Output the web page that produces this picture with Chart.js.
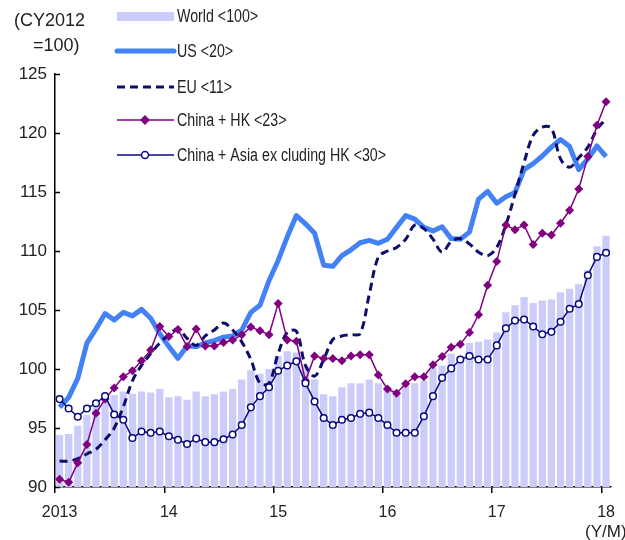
<!DOCTYPE html>
<html>
<head>
<meta charset="utf-8">
<script src="https://cdn.jsdelivr.net/npm/chart.js@4.4.1/dist/chart.umd.min.js"></script>
<style>
  body { margin: 0; background: #fff; }
  #wrap { width: 625px; height: 540px; }
</style>
</head>
<body>
<div id="wrap"><canvas id="chart" width="625" height="540"></canvas></div>
<script>
const FONT = "'Liberation Sans', Arial, sans-serif";

// months Jan 2013 .. Jan 2018
const months = [];
for (let y = 2013; y <= 2018; y++) {
    for (let m = 1; m <= 12; m++) {
        if (y === 2018 && m > 1) break;
        months.push(y + '/' + m);
    }
}
const yearLabels = ['2013', '14', '15', '16', '17', '18'];

const world = [94.4, 94.5, 95.2, 96.1, 96.8, 97.6, 97.8, 98.1, 97.9, 98.1, 98.0, 98.3,
    97.6, 97.7, 97.4, 98.1, 97.7, 97.85, 98.1, 98.3, 99.1, 99.9, 99.6, 100.0,
    101.1, 101.5, 101.4, 100.3, 99.1, 97.85, 97.7, 98.45, 98.8, 98.8, 99.1, 98.8,
    98.45, 98.2, 98.6, 98.8, 99.0, 100.1, 100.3, 101.3, 101.0, 102.2, 102.3, 102.5,
    103.1, 104.8, 105.4, 106.1, 105.6, 105.8, 105.9, 106.5, 106.8, 107.2, 108.4, 110.4,
    111.3];

const us = [96.75, 97.6, 99.2, 102.2, 103.4, 104.7, 104.15, 104.8, 104.5, 105.05, 104.3, 103.0,
    101.9, 100.9, 101.95, 101.9, 102.2, 102.4, 102.7, 102.8, 103.3, 104.8, 105.4, 107.5,
    109.2, 111.2, 113.0, 112.3, 111.5, 108.8, 108.7, 109.6, 110.1, 110.7, 110.9, 110.65,
    111.0, 112.0, 113.0, 112.7, 112.0, 111.7, 112.05, 111.05, 111.0, 111.6, 114.4, 115.05,
    114.05, 114.6, 114.95, 116.9, 117.4, 118.05, 118.8, 119.45, 118.85, 116.9, 117.8, 118.9,
    118.0];

const eu = [92.2, 92.2, 92.4, 92.8, 93.2, 94.0, 95.0, 96.8, 99.0, 100.3, 101.3, 102.2,
    102.9, 103.4, 102.6, 102.0, 102.8, 103.3, 103.9, 103.3, 102.3, 100.8, 98.8, 98.8,
    101.3, 103.1, 103.2, 100.3, 99.4, 100.8, 102.5, 102.8, 102.9, 103.0, 106.3, 109.5,
    110.0, 110.3, 111.0, 112.2, 111.9, 111.0, 109.9, 110.8, 111.05, 110.6, 109.9, 109.6,
    110.3, 112.2, 114.8, 117.5, 119.8, 120.5, 120.4, 117.8, 117.1, 117.9, 118.8, 120.3,
    121.2];

const chinaHK = [90.65, 90.4, 92.05, 93.6, 96.25, 97.45, 98.4, 99.35, 99.85, 100.7, 101.6, 103.6,
    102.75, 103.35, 101.9, 103.4, 101.95, 101.95, 102.25, 102.45, 102.9, 103.55, 103.25, 102.9,
    105.55, 102.45, 102.35, 99.0, 101.1, 100.9, 100.9, 100.7, 101.1, 101.2, 101.2, 99.5,
    98.3, 97.95, 98.75, 99.35, 99.35, 100.35, 101.05, 101.85, 102.1, 103.1, 104.6, 107.1,
    109.1, 112.2, 111.8, 112.2, 110.55, 111.5, 111.35, 112.35, 113.45, 115.25, 118.0, 120.65,
    122.65];

const chinaAsia = [97.45, 96.65, 95.95, 96.65, 97.1, 97.7, 96.15, 95.7, 94.15, 94.7, 94.6, 94.7,
    94.3, 94.0, 93.65, 94.1, 93.8, 93.8, 94.05, 94.45, 95.25, 96.75, 97.7, 98.45,
    99.85, 100.3, 100.65, 98.8, 97.25, 95.85, 95.25, 95.7, 95.85, 96.2, 96.3, 95.85,
    95.25, 94.6, 94.6, 94.6, 96.0, 97.7, 99.25, 100.05, 100.8, 101.1, 100.8, 100.8,
    102.0, 103.45, 104.1, 104.2, 103.6, 102.95, 103.15, 104.0, 105.1, 105.5, 107.95, 109.5,
    109.85];

const seriesNames = ['World <100>', 'US <20>', 'EU <11>', 'China + HK <23>', 'China + Asia ex cluding HK <30>'];

const COL_WORLD = '#ccccfa';
const COL_US = '#4282f5';
const COL_EU = '#0d0d6b';
const COL_CHK = '#800080';
const COL_CAS = '#0a0a80';

// narrow text like the original's condensed face
function narrowText(ctx, text, x, y, sx) {
    ctx.save();
    ctx.translate(x, y);
    ctx.scale(sx, 1);
    ctx.fillText(text, 0, 0);
    ctx.restore();
}

// legend, unit labels and inward y ticks
const decorPlugin = {
    id: 'decor',
    afterDraw(chart) {
        const ctx = chart.ctx;
        const ys = chart.scales.y;
        const area = chart.chartArea;
        ctx.save();

        // y ticks pointing into the plot
        ctx.strokeStyle = '#000';
        ctx.lineWidth = 1.5;
        ys.ticks.forEach(t => {
            const py = Math.round(ys.getPixelForValue(t.value)) + 0.5;
            ctx.beginPath();
            ctx.moveTo(area.left, py);
            ctx.lineTo(area.left + 5, py);
            ctx.stroke();
        });

        ctx.fillStyle = '#222';
        ctx.textBaseline = 'middle';
        ctx.textAlign = 'left';
        ctx.font = '18px ' + FONT;
        ctx.fillText('(CY2012', 14, 21);
        ctx.fillText('=100)', 33, 46);
        ctx.font = '17px ' + FONT;
        ctx.fillText('(Y/M)', 585, 532);

        // legend
        const lx0 = 117, lx1 = 174, tx = 177;
        const rows = [16, 51, 87, 120, 155];

        ctx.fillStyle = COL_WORLD;
        ctx.fillRect(lx0, rows[0] - 4, lx1 - lx0, 9);

        ctx.lineCap = 'round';
        ctx.strokeStyle = COL_US;
        ctx.lineWidth = 5;
        ctx.beginPath(); ctx.moveTo(lx0, rows[1]); ctx.lineTo(lx1, rows[1]); ctx.stroke();

        ctx.lineCap = 'butt';
        ctx.strokeStyle = COL_EU;
        ctx.lineWidth = 3;
        ctx.setLineDash([8, 5]);
        ctx.beginPath(); ctx.moveTo(lx0, rows[2]); ctx.lineTo(lx1, rows[2]); ctx.stroke();
        ctx.setLineDash([]);

        ctx.strokeStyle = COL_CHK;
        ctx.lineWidth = 1.5;
        ctx.beginPath(); ctx.moveTo(lx0, rows[3]); ctx.lineTo(lx1, rows[3]); ctx.stroke();
        ctx.fillStyle = COL_CHK;
        ctx.beginPath();
        ctx.moveTo(145, rows[3] - 5); ctx.lineTo(150, rows[3]); ctx.lineTo(145, rows[3] + 5); ctx.lineTo(140, rows[3]);
        ctx.closePath(); ctx.fill();

        ctx.strokeStyle = COL_CAS;
        ctx.beginPath(); ctx.moveTo(lx0, rows[4]); ctx.lineTo(lx1, rows[4]); ctx.stroke();
        ctx.fillStyle = '#fff';
        ctx.beginPath(); ctx.arc(145, rows[4], 3.5, 0, Math.PI * 2); ctx.fill(); ctx.stroke();

        ctx.fillStyle = '#222';
        ctx.font = '18px ' + FONT;
        seriesNames.forEach((n, i) => narrowText(ctx, n, tx, rows[i] + 1, 0.79));
        ctx.restore();
    }
};

const ctx = document.getElementById('chart').getContext('2d');
new Chart(ctx, {
    data: {
        labels: months,
        datasets: [
            { type: 'bar', label: seriesNames[0], data: world, backgroundColor: COL_WORLD,
              barPercentage: 0.8, categoryPercentage: 1, order: 5 },
            { type: 'line', label: seriesNames[1], data: us, borderColor: COL_US, borderWidth: 5,
              pointRadius: 0, tension: 0, borderJoinStyle: 'round', order: 4 },
            { type: 'line', label: seriesNames[2], data: eu, borderColor: COL_EU, borderWidth: 3,
              borderDash: [8, 5], pointRadius: 0, tension: 0.35, order: 3 },
            { type: 'line', label: seriesNames[3], data: chinaHK, borderColor: COL_CHK, borderWidth: 1.5,
              pointStyle: 'rectRot', pointRadius: 4.5, pointBackgroundColor: COL_CHK, pointBorderColor: COL_CHK,
              pointBorderWidth: 0, tension: 0, order: 2 },
            { type: 'line', label: seriesNames[4], data: chinaAsia, borderColor: COL_CAS, borderWidth: 1.5,
              pointStyle: 'circle', pointRadius: 3.3, pointBackgroundColor: '#fff', pointBorderColor: COL_CAS,
              pointBorderWidth: 1.5, tension: 0, order: 1 }
        ]
    },
    options: {
        responsive: false,
        animation: false,
        layout: { padding: { top: 74, right: 6, left: 0, bottom: 0 } },
        plugins: { legend: { display: false }, tooltip: { enabled: false } },
        scales: {
            x: {
                offset: true,
                grid: {
                    offset: true,
                    drawOnChartArea: false,
                    tickLength: 6,
                    lineWidth: 1.5,
                    color: c => (c.index !== undefined && c.index % 12 === 0) ? '#000' : 'rgba(0,0,0,0)'
                },
                border: { display: true, color: '#000', width: 1.5 },
                ticks: {
                    autoSkip: false, maxRotation: 0, minRotation: 0, padding: 10,
                    color: '#222', font: { family: FONT, size: 16 },
                    callback: (v, i) => i % 12 === 0 ? yearLabels[i / 12] : ''
                },
                afterFit: s => { s.height = 53; }
            },
            y: {
                min: 90, max: 125,
                grid: { display: false, drawTicks: false },
                border: { display: true, color: '#000', width: 1.5 },
                ticks: { stepSize: 5, padding: 8, color: '#222', font: { family: FONT, size: 17 } },
                afterFit: s => { s.width = 55; }
            }
        }
    },
    plugins: [decorPlugin]
});
</script>
</body>
</html>
